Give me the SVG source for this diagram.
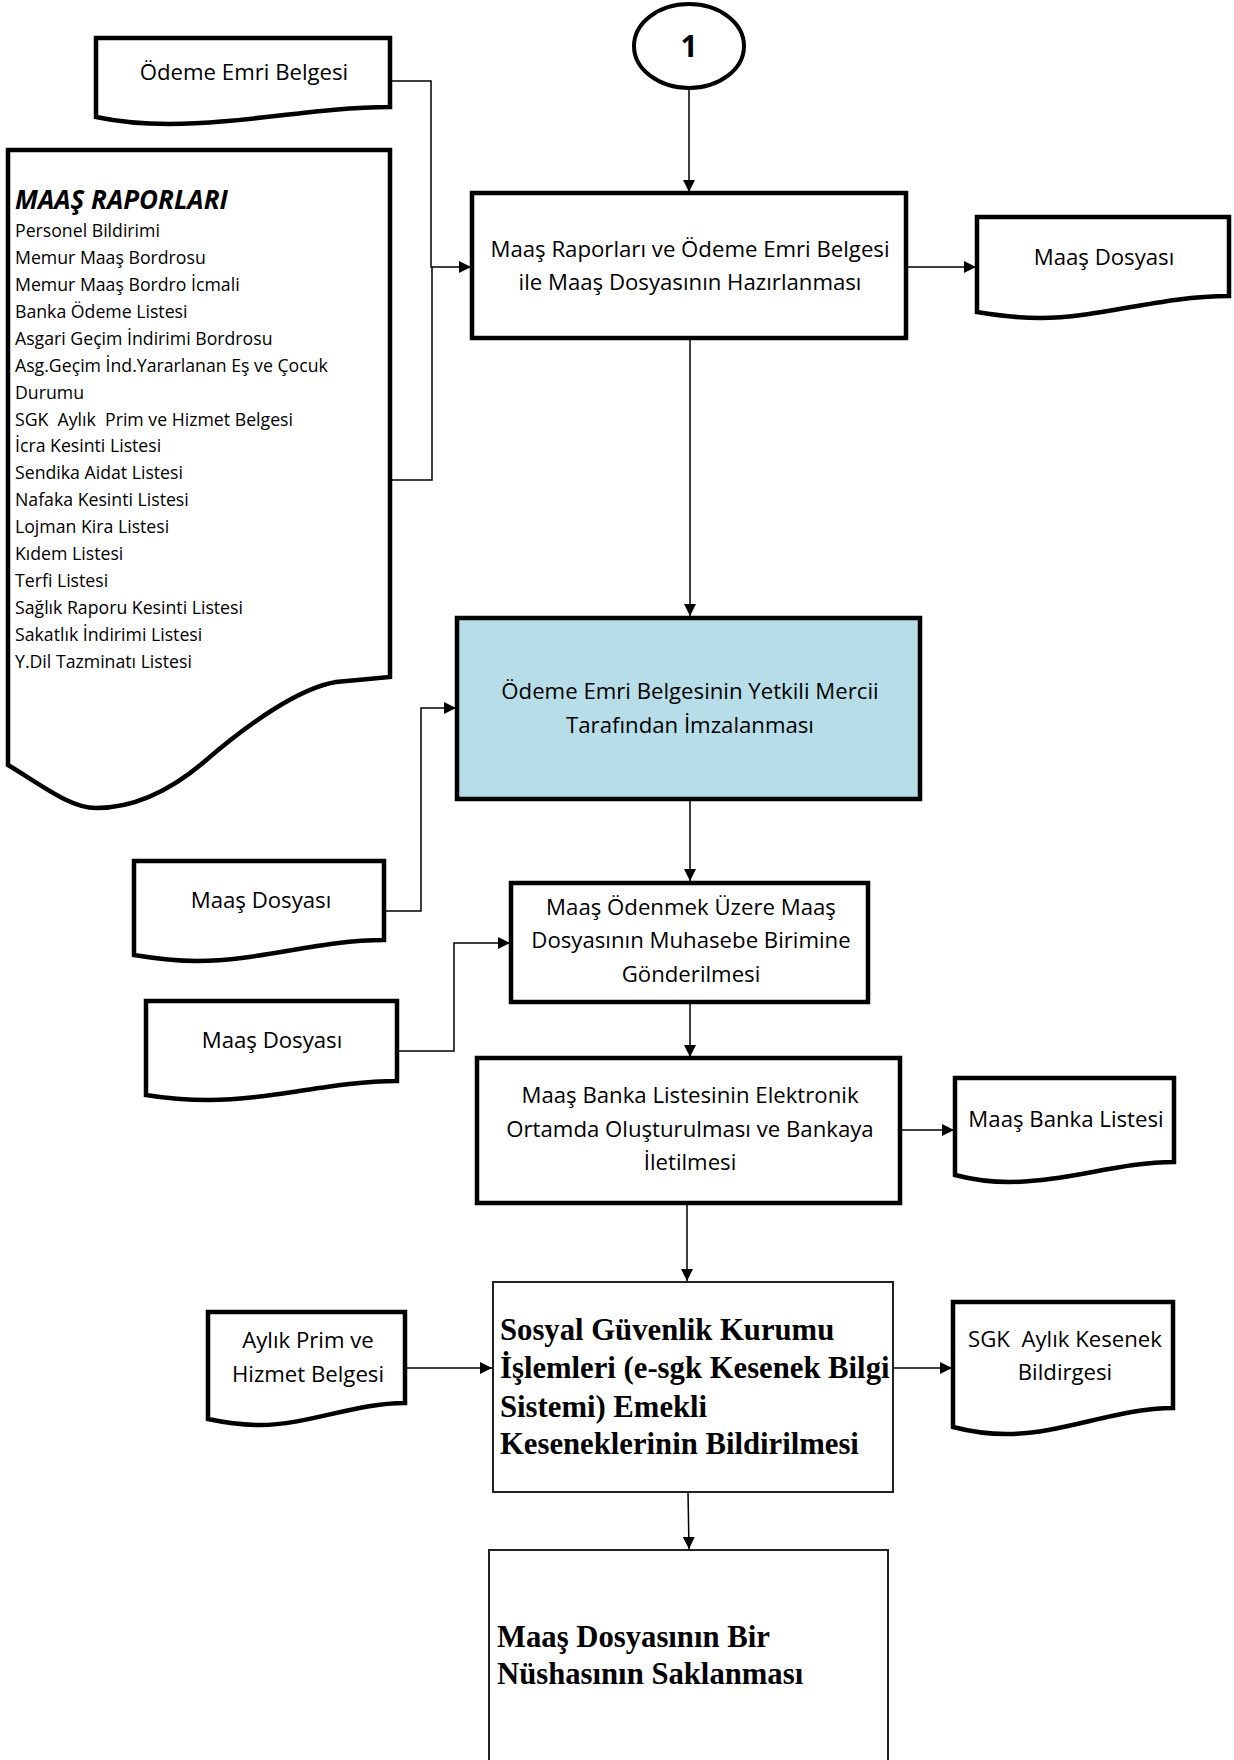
<svg xmlns="http://www.w3.org/2000/svg" width="1234" height="1760" viewBox="0 0 1234 1760">
<style>
.bx{fill:#fff;stroke:#000;stroke-width:4.5}
.blue{fill:#B7DEE8;stroke:#000;stroke-width:4.5}
.thin{fill:#fff;stroke:#222;stroke-width:2}
.doc{fill:#fff;stroke:#000;stroke-width:4.5;stroke-linejoin:miter}
.cn{fill:none;stroke:#000;stroke-width:1.5}
.t{font-family:"Open Sans","Noto Sans",sans-serif;font-size:22.2px;fill:#000}
.c{text-anchor:middle}
.ls{font-family:"Open Sans","Noto Sans",sans-serif;font-size:17.7px;fill:#000}
.tb{font-family:"Liberation Serif","Times New Roman",serif;font-size:30.7px;font-weight:bold;fill:#000}
</style>
<defs>
<marker id="ah" markerUnits="userSpaceOnUse" markerWidth="13" markerHeight="13" refX="12" refY="6" orient="auto">
<path d="M0,0 L12,6 L0,12 Z" fill="#000"/>
</marker>
</defs>

<g id="connectors">
<path class="cn" d="M689,88 V192" marker-end="url(#ah)"/>
<path class="cn" d="M390,81 H431 V267 H471" marker-end="url(#ah)"/>
<path class="cn" d="M390,480 H432 V267"/>
<path class="cn" d="M906,267 H976" marker-end="url(#ah)"/>
<path class="cn" d="M690,338 V616" marker-end="url(#ah)"/>
<path class="cn" d="M384,911 H421 V708 H456" marker-end="url(#ah)"/>
<path class="cn" d="M690,799 V881" marker-end="url(#ah)"/>
<path class="cn" d="M397,1051 H454 V943 H510" marker-end="url(#ah)"/>
<path class="cn" d="M690,1002 V1057" marker-end="url(#ah)"/>
<path class="cn" d="M900,1130 H954" marker-end="url(#ah)"/>
<path class="cn" d="M687,1203 V1281" marker-end="url(#ah)"/>
<path class="cn" d="M405,1368 H492" marker-end="url(#ah)"/>
<path class="cn" d="M893,1368 H952" marker-end="url(#ah)"/>
<path class="cn" d="M688,1492 L689,1549" marker-end="url(#ah)"/>
</g>

<g id="start1">
<ellipse cx="689" cy="46" rx="55" ry="42" fill="#fff" stroke="#000" stroke-width="4"/>
<text x="689" y="57" class="c" style="font-family:'Open Sans','Noto Sans',sans-serif;font-size:30px;font-weight:bold">1</text>
</g>

<g id="docOdemeEmri">
<path class="doc" d="M96,38 H390 V107 C316,107 243,124 169,124 C140,124 115,121 96,117 Z"/>
<text x="244" y="80" class="t c">Ödeme Emri Belgesi</text>
</g>

<g id="docMaasRaporlari">
<path class="doc" d="M8,150 H390 V677 L336,682 C300,688 250,722 204,762 C165,795 130,808 96,808 C70,808 40,784 8,765 Z"/>
<text x="15" y="209" style="font-family:'Open Sans','Noto Sans',sans-serif;font-size:26px;font-weight:bold;font-style:italic">MAAŞ RAPORLARI</text>
<text class="ls" xml:space="preserve">
<tspan x="15" y="237">Personel Bildirimi</tspan>
<tspan x="15" y="264">Memur Maaş Bordrosu</tspan>
<tspan x="15" y="291">Memur Maaş Bordro İcmali</tspan>
<tspan x="15" y="318">Banka Ödeme Listesi</tspan>
<tspan x="15" y="345">Asgari Geçim İndirimi Bordrosu</tspan>
<tspan x="15" y="372">Asg.Geçim İnd.Yararlanan Eş ve Çocuk</tspan>
<tspan x="15" y="399">Durumu</tspan>
<tspan x="15" y="426">SGK  Aylık  Prim ve Hizmet Belgesi</tspan>
<tspan x="15" y="452">İcra Kesinti Listesi</tspan>
<tspan x="15" y="479">Sendika Aidat Listesi</tspan>
<tspan x="15" y="506">Nafaka Kesinti Listesi</tspan>
<tspan x="15" y="533">Lojman Kira Listesi</tspan>
<tspan x="15" y="560">Kıdem Listesi</tspan>
<tspan x="15" y="587">Terfi Listesi</tspan>
<tspan x="15" y="614">Sağlık Raporu Kesinti Listesi</tspan>
<tspan x="15" y="641">Sakatlık İndirimi Listesi</tspan>
<tspan x="15" y="668">Y.Dil Tazminatı Listesi</tspan>
</text>
</g>

<g id="boxHazirlama">
<rect class="bx" x="472" y="193" width="434" height="145"/>
<text class="t c"><tspan x="690" y="257">Maaş Raporları ve Ödeme Emri Belgesi</tspan><tspan x="690" y="290">ile Maaş Dosyasının Hazırlanması</tspan></text>
</g>

<g id="docMaasDosyasi1">
<path class="doc" d="M977,217 H1229 V296 C1160,296 1100,318 1040,318 C1015,318 995,315 977,312 Z"/>
<text x="1104" y="265" class="t c">Maaş Dosyası</text>
</g>

<g id="boxImza">
<rect class="blue" x="457" y="618" width="463" height="181"/>
<text class="t c"><tspan x="690" y="699">Ödeme Emri Belgesinin Yetkili Mercii</tspan><tspan x="690" y="733">Tarafından İmzalanması</tspan></text>
</g>

<g id="docMaasDosyasi2">
<path class="doc" d="M134,861 H384 V940 C320,940 260,961 197,961 C172,961 152,958 134,955 Z"/>
<text x="261" y="908" class="t c">Maaş Dosyası</text>
</g>

<g id="boxGonderme">
<rect class="bx" x="511" y="883" width="357" height="119"/>
<text class="t c"><tspan x="691" y="915">Maaş Ödenmek Üzere Maaş</tspan><tspan x="691" y="948">Dosyasının Muhasebe Birimine</tspan><tspan x="691" y="982">Gönderilmesi</tspan></text>
</g>

<g id="docMaasDosyasi3">
<path class="doc" d="M146,1001 H397 V1081 C333,1081 272,1100 209,1100 C184,1100 164,1098 146,1095 Z"/>
<text x="272" y="1048" class="t c">Maaş Dosyası</text>
</g>

<g id="boxBankaListesi">
<rect class="bx" x="477" y="1058" width="423" height="145"/>
<text class="t c"><tspan x="690" y="1103">Maaş Banka Listesinin Elektronik</tspan><tspan x="690" y="1137">Ortamda Oluşturulması ve Bankaya</tspan><tspan x="690" y="1170">İletilmesi</tspan></text>
</g>

<g id="docBankaListesi">
<path class="doc" d="M955,1078 H1174 V1162 C1120,1162 1065,1182 1010,1182 C988,1182 970,1179 955,1175 Z"/>
<text x="1066" y="1127" class="t c">Maaş Banka Listesi</text>
</g>

<g id="docAylikPrim">
<path class="doc" d="M208,1312 H405 V1403 C355,1403 308,1425 260,1425 C240,1425 222,1422 208,1419 Z"/>
<text class="t c"><tspan x="308" y="1348">Aylık Prim ve</tspan><tspan x="308" y="1382">Hizmet Belgesi</tspan></text>
</g>

<g id="boxSGK">
<rect class="thin" x="493" y="1282" width="400" height="210"/>
<text class="tb"><tspan x="500" y="1340">Sosyal Güvenlik Kurumu</tspan><tspan x="500" y="1378">İşlemleri (e-sgk Kesenek Bilgi</tspan><tspan x="500" y="1417">Sistemi) Emekli</tspan><tspan x="500" y="1454">Keseneklerinin Bildirilmesi</tspan></text>
</g>

<g id="docSGKKesenek">
<path class="doc" d="M953,1302 H1173 V1408 C1118,1408 1062,1434 1007,1434 C985,1434 968,1431 953,1427 Z"/>
<text class="t c" xml:space="preserve"><tspan x="1065" y="1347">SGK  Aylık Kesenek</tspan><tspan x="1065" y="1380">Bildirgesi</tspan></text>
</g>

<g id="boxSaklama">
<rect class="thin" x="489" y="1550" width="399" height="230"/>
<text class="tb"><tspan x="497" y="1647">Maaş Dosyasının Bir</tspan><tspan x="497" y="1684">Nüshasının Saklanması</tspan></text>
</g>
</svg>
